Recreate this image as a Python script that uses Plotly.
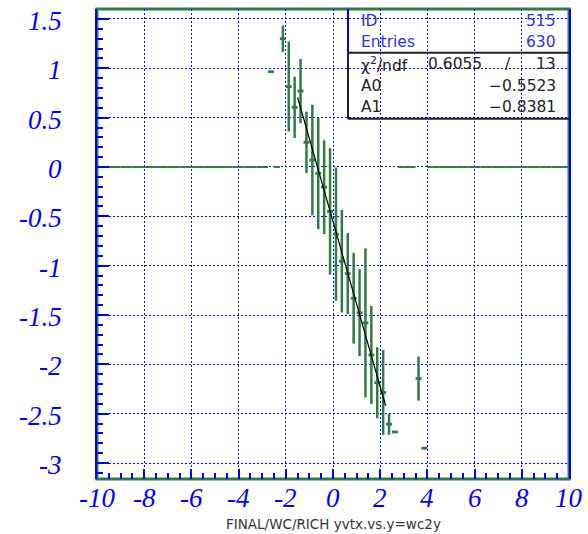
import numpy as np
import plotly.graph_objects as go

# ---- data ----
bin_width = 0.25
filled_x = [-2.625, -2.125, -1.875, -1.625, -1.375, -1.125, -0.875, -0.625, -0.375, -0.125,
            0.125, 0.375, 0.625, 0.875, 1.125, 1.375, 1.625, 1.875, 2.125, 2.375,
            2.625, 3.625, 3.875]
filled_y = [0.966, 1.30, 0.815, 0.605, 0.77, 0.25, 0.07, -0.065, -0.205, -0.45,
            -0.68, -0.955, -1.08, -1.33, -1.477, -1.58, -1.905, -2.186, -2.285, -2.607,
            -2.685, -2.144, -2.85]
filled_err = [0.0, 0.135, 0.455, 0.31, 0.325, 0.31, 0.56, 0.565, 0.475, 0.64,
              0.676, 0.52, 0.41, 0.46, 0.44, 0.755, 0.496, 0.36, 0.43, 0.107,
              0.0, 0.224, 0.0]
fit_x = [-1.5, 2.23]
fit_y = [0.705, -2.42]

x_ticks = [-10, -8, -6, -4, -2, 0, 2, 4, 6, 8, 10]
x_ticktext = ["-10", "-8", "-6", "-4", "-2", "0", "2", "4", "6", "8", "10"]
y_ticks = [-3, -2.5, -2, -1.5, -1, -0.5, 0, 0.5, 1, 1.5]
y_ticktext = ["-3", "-2.5", "-2", "-1.5", "-1", "-0.5", "0", "0.5", "1", "1.5"]

stats_top = [("ID", "515"), ("Entries", "630")]
chi2_ndf = ("0.6055", "13")
fit_params = [("A0", "\u22120.5523"), ("A1", "\u22120.8381")]
x_title = "FINAL/WC/RICH yvtx.vs.y=wc2y"

# ---- derived: empty bins drawn at zero ----
all_centers = np.round(np.arange(-10 + bin_width / 2, 10, bin_width), 4)
filled_set = set(filled_x)
empty_x = [float(c) for c in all_centers if c not in filled_set]
empty_y = [0.0] * len(empty_x)

GREEN = "#2f7d45"
BLUE = "#0000ff"

# plot area in pixels
L, R, T, B = 97, 569, 9, 479
W, H = 588, 534


def xp(px):
    return (px - L) / (R - L)


def yp(py):
    return (B - py) / (B - T)


fig = go.Figure()

fig.add_trace(go.Scatter(
    x=empty_x, y=empty_y, mode="markers", marker=dict(size=1, color=GREEN, opacity=0),
    error_x=dict(type="constant", value=bin_width / 2, color=GREEN, thickness=2, width=0),
    showlegend=False, hoverinfo="skip"))

fig.add_trace(go.Scatter(
    x=filled_x, y=filled_y, mode="markers", marker=dict(size=1, color=GREEN, opacity=0),
    error_x=dict(type="constant", value=bin_width / 2, color=GREEN, thickness=2.8, width=0),
    error_y=dict(type="data", array=filled_err, color=GREEN, thickness=2.5, width=0),
    showlegend=False))

fig.add_trace(go.Scatter(
    x=fit_x, y=fit_y, mode="lines", line=dict(color="black", width=1.2),
    showlegend=False))

GRIDDASH = "2px,2px"

fig.update_xaxes(
    range=[-10, 10], tickmode="array", tickvals=x_ticks, showticklabels=False,
    ticks="inside", ticklen=10, tickcolor=BLUE, tickwidth=1.5,
    minor=dict(dtick=0.5, tick0=0, ticks="inside", ticklen=6, tickcolor=BLUE, tickwidth=1.5, showgrid=False),
    showgrid=True, gridcolor=BLUE, griddash=GRIDDASH, gridwidth=1,
    showline=False, zeroline=False)

fig.update_yaxes(
    range=[-3.162, 1.601], tickmode="array", tickvals=y_ticks, showticklabels=False,
    ticks="inside", ticklen=12, tickcolor=BLUE, tickwidth=1.5,
    minor=dict(dtick=0.1, tick0=0, ticks="inside", ticklen=6, tickcolor=BLUE, tickwidth=1.5, showgrid=False),
    showgrid=True, gridcolor=BLUE, griddash=GRIDDASH, gridwidth=1,
    showline=True, linecolor=BLUE, linewidth=1.5, mirror=True, zeroline=False)

shapes = [
    # green frame
    dict(type="rect", xref="paper", yref="paper", x0=0, x1=1, y0=0, y1=1,
         line=dict(color=GREEN, width=3), layer="below"),
    # stats box: upper part (blue left border)
    dict(type="line", xref="paper", yref="paper", x0=xp(348), x1=xp(348), y0=yp(9), y1=yp(52.7),
         line=dict(color=BLUE, width=2)),
    dict(type="line", xref="paper", yref="paper", x0=xp(348), x1=xp(569), y0=yp(52.7), y1=yp(52.7),
         line=dict(color="#222222", width=2)),
    dict(type="line", xref="paper", yref="paper", x0=xp(348), x1=xp(348), y0=yp(52.7), y1=yp(118.7),
         line=dict(color="#222222", width=2)),
    dict(type="line", xref="paper", yref="paper", x0=xp(348), x1=xp(569), y0=yp(118.7), y1=yp(118.7),
         line=dict(color="#222222", width=2)),
]

annotations = []
tickfont = dict(family="Liberation Serif", size=27, color=BLUE, style="italic")

# tick labels as text placed through the axes' own coordinates
for v, t in zip(x_ticks, x_ticktext):
    annotations.append(dict(text=t, x=v, y=yp(498), xref="x", yref="paper",
                            xanchor="center", yanchor="middle", showarrow=False, font=tickfont))
for v, t in zip(y_ticks, y_ticktext):
    annotations.append(dict(text=t, x=xp(64), y=v, xref="paper", yref="y",
                            xanchor="right", yanchor="middle", showarrow=False, font=tickfont,
                            yshift=-2))

sfont_blue = dict(family="DejaVu Sans", size=15.5, color="#3030ee")
sfont_black = dict(family="DejaVu Sans", size=15.5, color="#222222")


def ann(text, px, py, font, xanchor):
    annotations.append(dict(text=text, x=xp(px), y=yp(py), xref="paper", yref="paper",
                            xanchor=xanchor, yanchor="middle", showarrow=False, font=font))


row_y_top = [20.5, 41.5]
for (lab, val), ry in zip(stats_top, row_y_top):
    ann(lab, 359, ry, sfont_blue, "left")
    ann(val, 558, ry, sfont_blue, "right")

ann("\u03c7<sup>2</sup>/ndf", 359, 64, sfont_black, "left")
ann(chi2_ndf[0], 426, 64, sfont_black, "left")
ann("/", 508, 64, sfont_black, "center")
ann(chi2_ndf[1], 558, 64, sfont_black, "right")

row_y_bot = [85.5, 106.5]
for (lab, val), ry in zip(fit_params, row_y_bot):
    ann(lab, 359, ry, sfont_black, "left")
    ann(val, 558, ry, sfont_black, "right")

ann(x_title, 333, 524, dict(family="DejaVu Sans", size=13.5, color="#333333"), "center")

fig.update_layout(
    width=W, height=H,
    margin=dict(l=L, r=W - R, t=T, b=H - B, pad=0),
    paper_bgcolor="white", plot_bgcolor="white",
    shapes=shapes, annotations=annotations, showlegend=False)

fig.write_html("out.html")
